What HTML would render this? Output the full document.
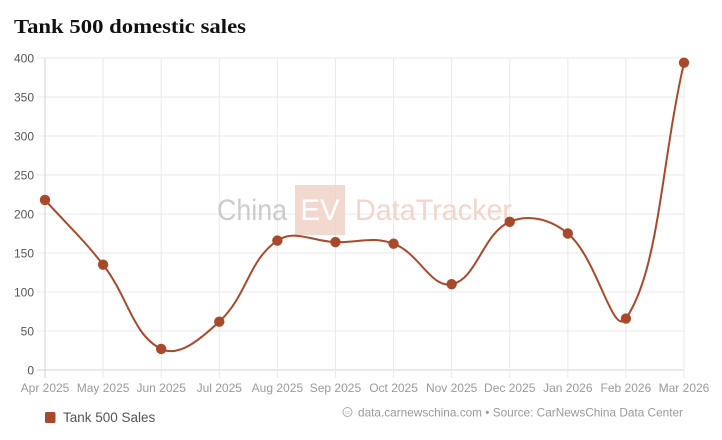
<!DOCTYPE html>
<html><head><meta charset="utf-8">
<style>
html,body{margin:0;padding:0;background:#fff;}
svg{display:block;}
text{font-family:"Liberation Sans",Arial,sans-serif;}
</style></head>
<body>
<svg id="c" width="722" height="440" viewBox="0 0 722 440" xmlns="http://www.w3.org/2000/svg">
<rect width="722" height="440" fill="#fff"/>
<text x="14" y="33" font-family="Liberation Serif, serif" font-weight="bold" font-size="20.5" fill="#111" textLength="232" lengthAdjust="spacingAndGlyphs" style="font-family:'Liberation Serif',serif">Tank 500 domestic sales</text>
<g id="grid" stroke="#e9e6e4" stroke-width="1"></g>
<g id="axes"></g>
<!-- watermark -->
<g opacity="0.85">
<text x="217" y="220" font-size="29.5" fill="#c4c4c4" textLength="70" lengthAdjust="spacingAndGlyphs">China</text>
<rect x="295" y="185" width="50" height="50" fill="#f0d3c8"/>
<text x="320" y="220" font-size="29.5" fill="#fff" text-anchor="middle">EV</text>
<text x="355" y="220" font-size="29.5" fill="#efcfc4" textLength="157" lengthAdjust="spacingAndGlyphs">DataTracker</text>
</g>
<path id="line" fill="none" stroke="#a9492b" stroke-width="2"/>
<g id="pts" fill="#a9492b"></g>
<!-- legend -->
<rect x="45" y="412" width="10.5" height="11" rx="1.5" fill="#a9492b"/>
<text x="63" y="422" font-size="13.5" fill="#555">Tank 500 Sales</text>
<circle cx="347.5" cy="412" r="4.5" fill="none" stroke="#aaa" stroke-width="1"/>
<text x="347.5" y="414" font-size="5" fill="#aaa" text-anchor="middle">cc</text>
<text x="358" y="416.5" font-size="12" fill="#999" textLength="325" lengthAdjust="spacingAndGlyphs">data.carnewschina.com • Source: CarNewsChina Data Center</text>
</svg>
<script>
(function(){
var NS="http://www.w3.org/2000/svg";
var svg=document.getElementById('c');
var grid=document.getElementById('grid');
var axes=document.getElementById('axes');
var x0=45,x1=684,y0=370,yTop=58;
var n=12,dx=(x1-x0)/11;
var labels=["Apr 2025","May 2025","Jun 2025","Jul 2025","Aug 2025","Sep 2025","Oct 2025","Nov 2025","Dec 2025","Jan 2026","Feb 2026","Mar 2026"];
var data=[218,135,27,62,166,164,162,110,190,175,66,394];
function el(t,a,p){var e=document.createElementNS(NS,t);for(var k in a)e.setAttribute(k,a[k]);(p||svg).appendChild(e);return e;}
function Y(v){return y0-v*0.78;}
for(var v=0;v<=400;v+=50){
  var y=Y(v);
  el('line',{x1:37,x2:x1,y1:y,y2:y,stroke:(v==0?'#d6d3d1':'#ebe8e6')},grid);
  var t=el('text',{x:34,y:y+4.5,'font-size':12,fill:'#555','text-anchor':'end'},axes);
  t.textContent=v;
}
for(var i=0;i<n;i++){
  var x=x0+i*dx;
  el('line',{x1:x,x2:x,y1:yTop,y2:378,stroke:(i==0?'#d6d3d1':'#ebe8e6')},grid);
  var t=el('text',{x:x,y:392,'font-size':12,fill:'#9a9a9a','text-anchor':'middle'},axes);
  t.textContent=labels[i];
}
var P=data.map(function(v,i){return {x:x0+i*dx,y:Y(v)};});
var T=0.4;
var cps=P.map(function(cur,i){
  var prev=P[i-1]||cur, next=P[i+1]||cur;
  var d01=Math.hypot(cur.x-prev.x,cur.y-prev.y), d12=Math.hypot(next.x-cur.x,next.y-cur.y);
  var s01=d01/(d01+d12), s12=d12/(d01+d12);
  if(isNaN(s01))s01=0; if(isNaN(s12))s12=0;
  var fa=T*s01, fb=T*s12;
  function cl(p){return {x:Math.max(x0,Math.min(x1,p.x)),y:Math.max(yTop,Math.min(y0,p.y))};}
  return {p:cl({x:cur.x-fa*(next.x-prev.x),y:cur.y-fa*(next.y-prev.y)}),
          n:cl({x:cur.x+fb*(next.x-prev.x),y:cur.y+fb*(next.y-prev.y)})};
});
var d="M"+P[0].x.toFixed(2)+" "+P[0].y.toFixed(2);
for(var i=1;i<n;i++){
  var a=cps[i-1].n,b=cps[i].p;
  d+=" C"+a.x.toFixed(2)+" "+a.y.toFixed(2)+" "+b.x.toFixed(2)+" "+b.y.toFixed(2)+" "+P[i].x.toFixed(2)+" "+P[i].y.toFixed(2);
}
document.getElementById('line').setAttribute('d',d);
var pts=document.getElementById('pts');
P.forEach(function(p){el('circle',{cx:p.x,cy:p.y,r:5.2},pts);});
})();
</script>
</body></html>
